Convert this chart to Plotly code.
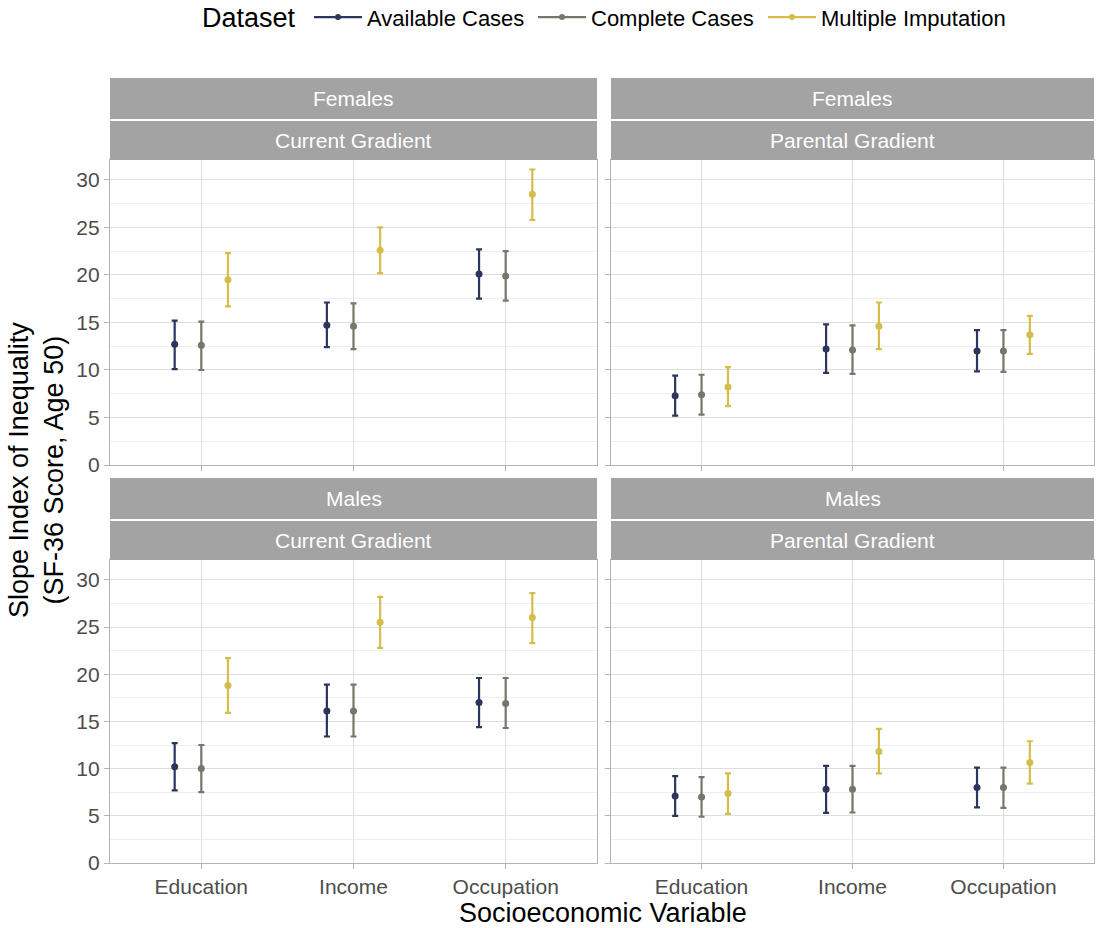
import plotly.graph_objects as go

# ---- data -------------------------------------------------------------
categories = ["Education", "Income", "Occupation"]
datasets = ["Available Cases", "Complete Cases", "Multiple Imputation"]
colors = ["#2B365A", "#77766B", "#D5BD4B"]

sexes = ["Females", "Males"]
gradients = ["Current Gradient", "Parental Gradient"]

# estimate / lower / upper, per dataset, ordered as categories
fem_cur_est = [[12.7, 14.7, 20.1], [12.6, 14.6, 19.9], [19.5, 22.6, 28.5]]
fem_cur_lo = [[10.1, 12.4, 17.5], [10.0, 12.2, 17.3], [16.7, 20.2, 25.8]]
fem_cur_hi = [[15.2, 17.1, 22.7], [15.1, 17.0, 22.5], [22.3, 25.0, 31.1]]

fem_par_est = [[7.3, 12.2, 12.0], [7.4, 12.1, 12.0], [8.2, 14.6, 13.7]]
fem_par_lo = [[5.2, 9.7, 9.85], [5.3, 9.6, 9.8], [6.2, 12.2, 11.7]]
fem_par_hi = [[9.4, 14.8, 14.2], [9.5, 14.7, 14.2], [10.3, 17.1, 15.7]]

mal_cur_est = [[10.2, 16.1, 17.0], [10.0, 16.1, 16.9], [18.8, 25.5, 26.0]]
mal_cur_lo = [[7.7, 13.4, 14.4], [7.5, 13.4, 14.3], [15.9, 22.8, 23.3]]
mal_cur_hi = [[12.7, 18.9, 19.6], [12.5, 18.9, 19.6], [21.7, 28.2, 28.6]]

mal_par_est = [[7.1, 7.8, 8.0], [7.0, 7.8, 8.0], [7.35, 11.8, 10.65]]
mal_par_lo = [[5.0, 5.3, 5.9], [4.9, 5.35, 5.85], [5.2, 9.5, 8.4]]
mal_par_hi = [[9.2, 10.3, 10.1], [9.1, 10.3, 10.1], [9.5, 14.2, 12.9]]

y_ticks = [0, 5, 10, 15, 20, 25, 30]

# ---- layout geometry (pixels) -----------------------------------------
W, H = 1096, 928
col_x = [(110, 597), (611, 1094)]
row_y = [(160, 465), (560, 863)]          # plot area top/bottom
strip1 = [(78, 119), (478, 519)]          # sex strip
strip2 = [(121, 160), (521, 560)]         # gradient strip
legend_x = [309, 533, 763]                # left edge of each legend entry

def px_x(v):
    return v / W

def px_y(v):
    return 1 - v / H

panels = [
    (0, 0, "Females", "Current Gradient", fem_cur_est, fem_cur_lo, fem_cur_hi),
    (0, 1, "Females", "Parental Gradient", fem_par_est, fem_par_lo, fem_par_hi),
    (1, 0, "Males", "Current Gradient", mal_cur_est, mal_cur_lo, mal_cur_hi),
    (1, 1, "Males", "Parental Gradient", mal_par_est, mal_par_lo, mal_par_hi),
]

dodge = [-0.175, 0.0, 0.175]
font_family = "Liberation Sans, Arial, sans-serif"
TICK_FONT = 21
STRIP_FONT = 21
TITLE_FONT = 27

fig = go.Figure()
layout = dict(
    width=W, height=H,
    margin=dict(l=0, r=0, t=0, b=0, autoexpand=False),
    paper_bgcolor="white", plot_bgcolor="white",
    font=dict(family=font_family, color="#4D4D4D"),
    showlegend=True,
)
shapes, annotations = [], []

for i, (r, c, sex, grad, est, lo, hi) in enumerate(panels):
    n = i + 1
    xa = "x" if n == 1 else f"x{n}"
    ya = "y" if n == 1 else f"y{n}"
    xkey = "xaxis" if n == 1 else f"xaxis{n}"
    ykey = "yaxis" if n == 1 else f"yaxis{n}"
    for d, name in enumerate(datasets):
        xs = [k + 1 + dodge[d] for k in range(len(categories))]
        ys = est[d]
        fig.add_trace(go.Scatter(
            x=xs, y=ys, mode="markers", xaxis=xa, yaxis=ya,
            name=name, showlegend=False, legendgroup=name,
            marker=dict(color=colors[d], size=7),
            error_y=dict(type="data", symmetric=False,
                         array=[h - v for h, v in zip(hi[d], ys)],
                         arrayminus=[v - l for l, v in zip(lo[d], ys)],
                         color=colors[d], thickness=2.2, width=3),
        ))
    x0, x1 = col_x[c]
    y0, y1 = row_y[r]
    layout[xkey] = dict(
        domain=[px_x(x0), px_x(x1)], anchor=ya, range=[0.4, 3.6],
        tickvals=[1, 2, 3], ticktext=categories,
        showticklabels=(r == 1), ticks="outside", ticklen=5,
        tickcolor="#B3B3B3", tickwidth=1.2,
        tickfont=dict(size=TICK_FONT, color="#4D4D4D"),
        showgrid=True, gridcolor="#DEDEDE", gridwidth=1.2,
        showline=True, linecolor="#B3B3B3", linewidth=1.4, mirror=True,
        zeroline=False,
    )
    layout[ykey] = dict(
        domain=[px_y(y1), px_y(y0)], anchor=xa, range=[0, 32.1],
        tickvals=y_ticks, showticklabels=(c == 0), ticks="outside",
        ticklen=5, tickcolor="#B3B3B3", tickwidth=1.2,
        tickfont=dict(size=TICK_FONT, color="#4D4D4D"),
        showgrid=True, gridcolor="#DEDEDE", gridwidth=1.2,
        minor=dict(dtick=2.5, tick0=0, showgrid=True,
                   gridcolor="#EFEFEF", gridwidth=1, ticks=""),
        showline=True, linecolor="#B3B3B3", linewidth=1.4, mirror=True,
        zeroline=False,
    )
    # facet strips
    for (s0, s1), label in ((strip1[r], sex), (strip2[r], grad)):
        shapes.append(dict(type="rect", xref="paper", yref="paper",
                           x0=px_x(x0), x1=px_x(x1), y0=px_y(s1), y1=px_y(s0),
                           fillcolor="#A3A3A3", line=dict(width=0), layer="above"))
        annotations.append(dict(x=px_x((x0 + x1) / 2), y=px_y((s0 + s1) / 2),
                                xref="paper", yref="paper", text=label,
                                showarrow=False, xanchor="center", yanchor="middle",
                                font=dict(size=STRIP_FONT, color="white")))

# legend entries drawn as line + point, one legend box per dataset
for d, name in enumerate(datasets):
    lg = "legend" if d == 0 else f"legend{d + 1}"
    fig.add_trace(go.Scatter(
        x=[None], y=[None], mode="lines+markers", name=name,
        legendgroup=name, legend=lg, line=dict(color=colors[d], width=2.2),
        marker=dict(color=colors[d], size=6),
    ))
    layout[lg] = dict(
        orientation="h", x=px_x(legend_x[d]), xanchor="left",
        y=1.004, yanchor="top",
        font=dict(size=22, color="black"), itemwidth=48,
        bgcolor="rgba(0,0,0,0)",
    )

annotations.append(dict(x=px_x(298), y=px_y(18), xref="paper", yref="paper",
                        text="Dataset", showarrow=False,
                        xanchor="right", yanchor="middle",
                        font=dict(size=TITLE_FONT, color="black")))
annotations.append(dict(x=px_x(603), y=px_y(913), xref="paper", yref="paper",
                        text="Socioeconomic Variable", showarrow=False,
                        xanchor="center", yanchor="middle",
                        font=dict(size=TITLE_FONT, color="black")))
annotations.append(dict(x=px_x(36), y=px_y(470), xref="paper", yref="paper",
                        text="Slope Index of Inequality<br>(SF-36 Score, Age 50)",
                        showarrow=False, textangle=-90,
                        xanchor="center", yanchor="middle",
                        font=dict(size=TITLE_FONT, color="black")))

layout["shapes"] = shapes
layout["annotations"] = annotations
fig.update_layout(**layout)

fig.write_html("out.html")
